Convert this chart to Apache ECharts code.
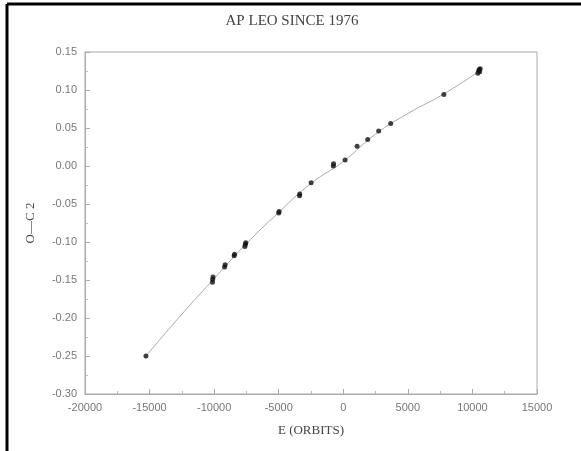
<!DOCTYPE html>
<html>
<head>
<meta charset="utf-8">
<script src="https://cdn.jsdelivr.net/npm/echarts@6/dist/echarts.min.js"></script>
<style>
html,body{margin:0;padding:0;background:#fff;}
#chart{width:581px;height:451px;}
</style>
</head>
<body>
<div id="chart"></div>
<script>
// observed minima, E (orbits) and O-C
var obsE = [-15280, -10130, -10110, -10090, -9190, -9150, -8450, -8420, -7620, -7580, -7550,
            -5000, -4970, -3390, -3370, -2490, -770, -750, 140, 1070, 1890, 2740, 3670, 7790,
            10420, 10480, 10530, 10560, 10600];
var obsOC = [-0.250, -0.153, -0.149, -0.146, -0.133, -0.130, -0.118, -0.116, -0.106, -0.103, -0.101,
             -0.062, -0.060, -0.039, -0.037, -0.022, 0.000, 0.003, 0.008, 0.026, 0.035, 0.046, 0.056, 0.094,
             0.122, 0.125, 0.127, 0.124, 0.128];
// fitted curve
var fitE = [-15280, -12500, -10100, -7600, -5000, -2500, 0, 2500, 5000, 7800, 10550];
var fitOC = [-0.250, -0.195, -0.150, -0.104, -0.061, -0.023, 0.006, 0.042, 0.069, 0.095, 0.125];

var chart = echarts.init(document.getElementById('chart'));

var pairs = function(xs, ys) {
    return xs.map(function(x, i) { return [x, ys[i]]; });
};

var option = {
    backgroundColor: '#fff',
    animation: false,
    title: {
        text: 'AP LEO SINCE 1976',
        left: 287,
        top: 9,
        textAlign: 'center',
        textStyle: { fontFamily: 'Liberation Serif', fontWeight: 'normal', fontSize: 15, color: '#444' }
    },
    grid: {
        left: 85, right: 44, top: 52, bottom: 57,
        show: true, borderColor: '#aaa', borderWidth: 1
    },
    xAxis: {
        type: 'value',
        min: -20000, max: 15000, interval: 5000,
        name: 'E (ORBITS)',
        nameLocation: 'middle',
        nameGap: 30,
        nameTextStyle: { fontFamily: 'Liberation Serif', fontSize: 13, color: '#444' },
        axisLine: { onZero: false, lineStyle: { color: '#aaa' } },
        axisTick: { inside: true, length: 5, lineStyle: { color: '#aaa' } },
        minorTick: { show: true, splitNumber: 2, length: 3, lineStyle: { color: '#bbb' } },
        splitLine: { show: false },
        axisLabel: {
            color: '#777', fontSize: 11, fontFamily: 'Liberation Sans', margin: 8,
            formatter: function(v) { return String(v); }
        }
    },
    yAxis: {
        type: 'value',
        min: -0.30, max: 0.15, interval: 0.05,
        name: 'O\u2014C 2',
        nameLocation: 'middle',
        nameGap: 48,
        nameRotate: 90,
        nameTextStyle: { fontFamily: 'Liberation Serif', fontSize: 13, color: '#444' },
        axisLine: { onZero: false, lineStyle: { color: '#aaa' } },
        axisTick: { inside: true, length: 5, lineStyle: { color: '#aaa' } },
        minorTick: { show: true, splitNumber: 2, length: 3, lineStyle: { color: '#bbb' } },
        splitLine: { show: false },
        axisLabel: {
            color: '#777', fontSize: 11, fontFamily: 'Liberation Sans', margin: 8,
            formatter: function(v) { return v.toFixed(2); }
        }
    },
    graphic: [
        { type: 'line', shape: { x1: 7, y1: 4, x2: 581, y2: 4 }, style: { stroke: '#000', lineWidth: 3 } },
        { type: 'line', shape: { x1: 7, y1: 4, x2: 7, y2: 451 }, style: { stroke: '#000', lineWidth: 3 } }
    ],
    series: [
        {
            type: 'line',
            data: pairs(fitE, fitOC),
            smooth: true,
            showSymbol: false,
            lineStyle: { color: '#aaa', width: 1 },
            z: 1
        },
        {
            type: 'scatter',
            data: pairs(obsE, obsOC),
            symbolSize: 5,
            itemStyle: { color: '#111' },
            z: 2
        }
    ]
};

chart.setOption(option);
</script>
</body>
</html>
